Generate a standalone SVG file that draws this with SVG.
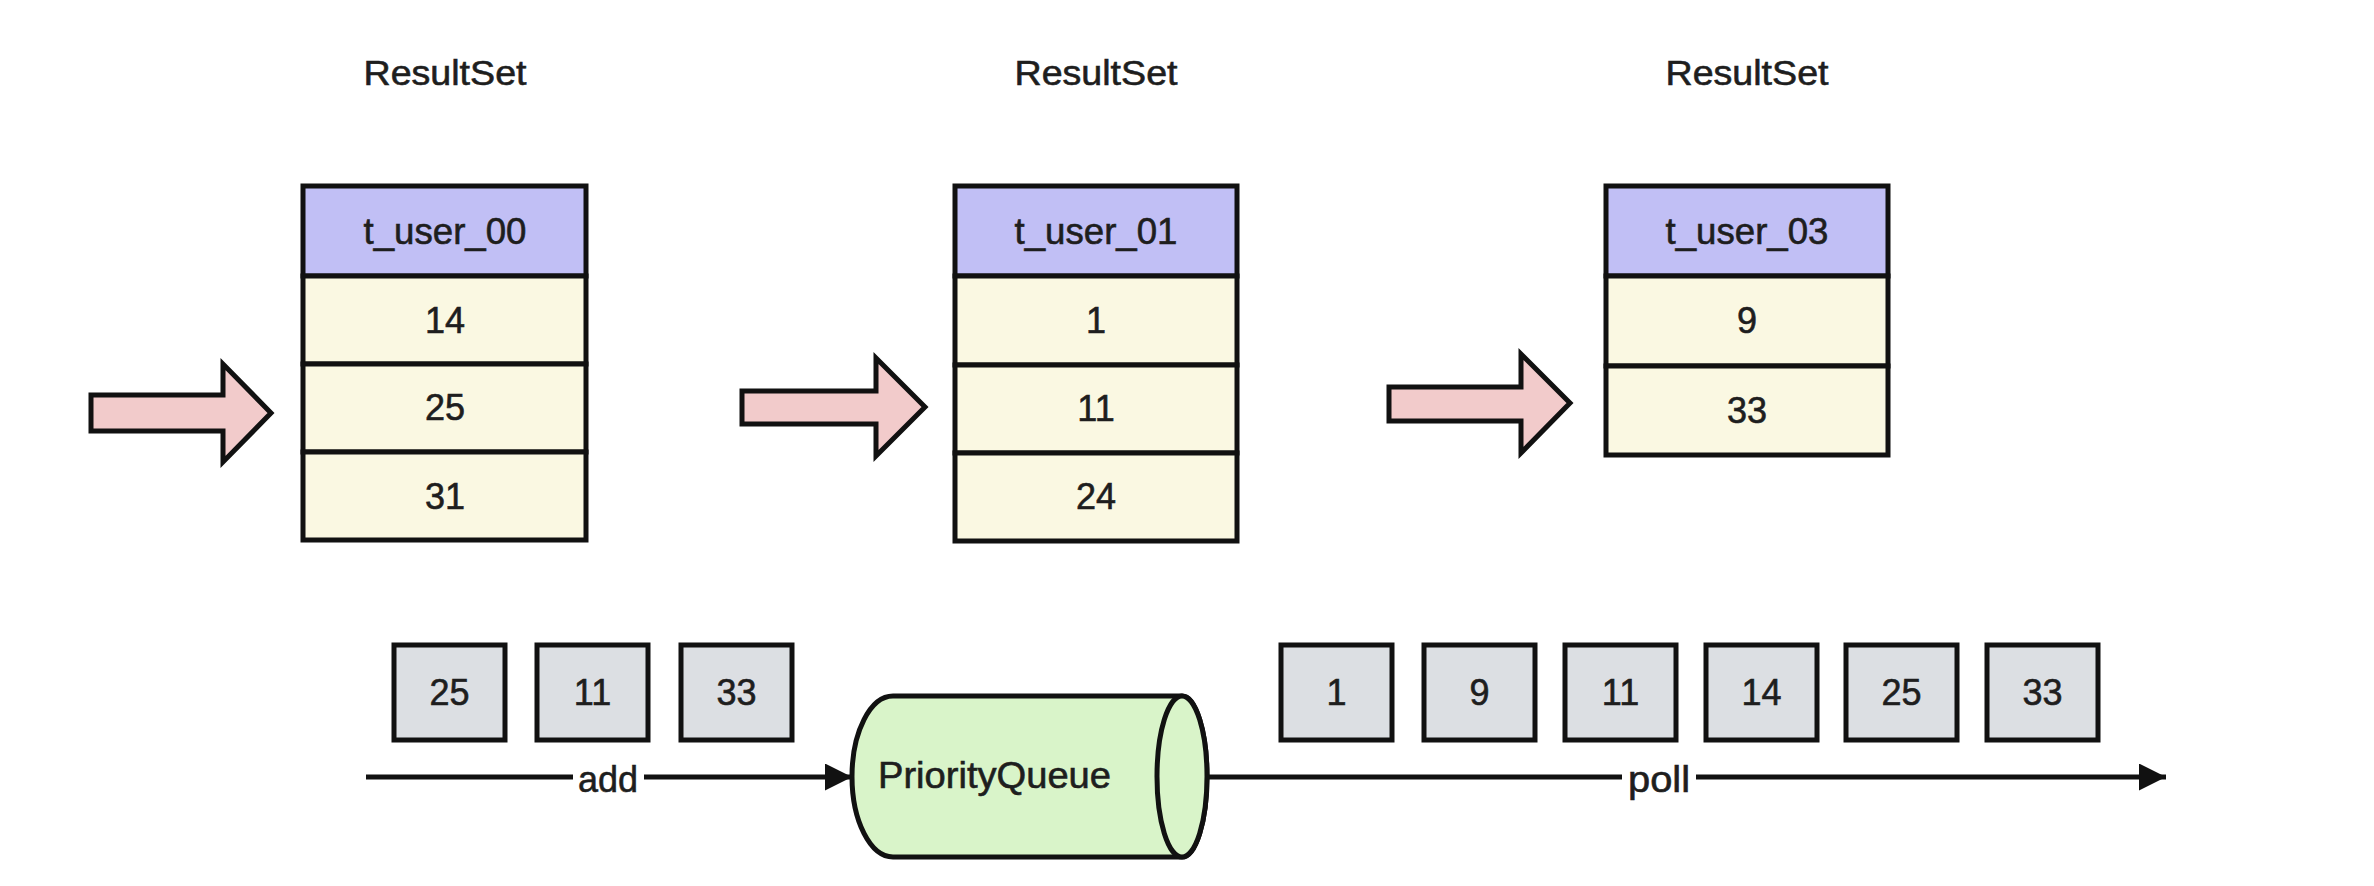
<svg xmlns="http://www.w3.org/2000/svg" width="2374" height="886" viewBox="0 0 2374 886">
  <defs>
    <style>
      .t { font-family: "Liberation Sans", Arial, Helvetica, sans-serif; fill: #1e1e1e; stroke: #1e1e1e; stroke-width: 0.6; text-anchor: middle; font-size: 36px; }
      .title { font-size: 35px; }
      .hdr { fill: #c1bff5; stroke: #111111; stroke-width: 5; }
      .row { fill: #faf8e2; stroke: #111111; stroke-width: 5; }
      .box { fill: #dcdfe3; stroke: #111111; stroke-width: 5; }
      .blk { fill: #f2cbcb; stroke: #111111; stroke-width: 5; stroke-linejoin: miter; }
      .line { stroke: #111111; stroke-width: 5; fill: none; }
      .lbl { fill: #ffffff; stroke: none; }
    </style>
    <marker id="arr" viewBox="0 0 10 10" refX="10" refY="5" markerWidth="7.6" markerHeight="5.4" markerUnits="strokeWidth" orient="auto">
      <path d="M0,0 L10,5 L0,10 Z" fill="#111111"/>
    </marker>
  </defs>
  <rect x="0" y="0" width="2374" height="886" fill="#ffffff"/>

  <!-- Result set 1 -->
  <g id="resultset-00">
    <text class="t title" x="445" y="85" textLength="163" lengthAdjust="spacingAndGlyphs">ResultSet</text>
    <rect class="hdr" x="303" y="186" width="283" height="90"/>
    <text class="t" x="445" y="244" textLength="163" lengthAdjust="spacingAndGlyphs">t_user_00</text>
    <rect class="row" x="303" y="276" width="283" height="88"/>
    <text class="t" x="445" y="333">14</text>
    <rect class="row" x="303" y="364" width="283" height="88"/>
    <text class="t" x="445" y="420">25</text>
    <rect class="row" x="303" y="452" width="283" height="88"/>
    <text class="t" x="445" y="509">31</text>
  </g>

  <!-- Result set 2 -->
  <g id="resultset-01">
    <text class="t title" x="1096" y="85" textLength="163" lengthAdjust="spacingAndGlyphs">ResultSet</text>
    <rect class="hdr" x="955" y="186" width="282" height="90"/>
    <text class="t" x="1096" y="244" textLength="163" lengthAdjust="spacingAndGlyphs">t_user_01</text>
    <rect class="row" x="955" y="276" width="282" height="89"/>
    <text class="t" x="1096" y="333">1</text>
    <rect class="row" x="955" y="365" width="282" height="88"/>
    <text class="t" x="1096" y="421">11</text>
    <rect class="row" x="955" y="453" width="282" height="88"/>
    <text class="t" x="1096" y="509">24</text>
  </g>

  <!-- Result set 3 -->
  <g id="resultset-03">
    <text class="t title" x="1747" y="85" textLength="163" lengthAdjust="spacingAndGlyphs">ResultSet</text>
    <rect class="hdr" x="1606" y="186" width="282" height="90"/>
    <text class="t" x="1747" y="244" textLength="163" lengthAdjust="spacingAndGlyphs">t_user_03</text>
    <rect class="row" x="1606" y="276" width="282" height="90"/>
    <text class="t" x="1747" y="333">9</text>
    <rect class="row" x="1606" y="366" width="282" height="89"/>
    <text class="t" x="1747" y="423">33</text>
  </g>

  <!-- Pink block arrows (cursors) -->
  <g id="cursors">
    <path class="blk" d="M91,395 L223,395 L223,364 L271,413 L223,462 L223,431 L91,431 Z"/>
    <path class="blk" d="M742,391 L876,391 L876,358 L925,407 L876,456 L876,424 L742,424 Z"/>
    <path class="blk" d="M1389,387 L1521,387 L1521,354 L1570,403 L1521,453 L1521,421 L1389,421 Z"/>
  </g>

  <!-- Added elements -->
  <g id="added-25"><rect class="box" x="394" y="645" width="111" height="95"/><text class="t" x="449.5" y="705">25</text></g>
  <g id="added-11"><rect class="box" x="537" y="645" width="111" height="95"/><text class="t" x="592.5" y="705">11</text></g>
  <g id="added-33"><rect class="box" x="681" y="645" width="111" height="95"/><text class="t" x="736.5" y="705">33</text></g>

  <!-- Polled elements -->
  <g id="polled-1"><rect class="box" x="1281" y="645" width="111" height="95"/><text class="t" x="1336.5" y="705">1</text></g>
  <g id="polled-9"><rect class="box" x="1424" y="645" width="111" height="95"/><text class="t" x="1479.5" y="705">9</text></g>
  <g id="polled-11"><rect class="box" x="1565" y="645" width="111" height="95"/><text class="t" x="1620.5" y="705">11</text></g>
  <g id="polled-14"><rect class="box" x="1706" y="645" width="111" height="95"/><text class="t" x="1761.5" y="705">14</text></g>
  <g id="polled-25"><rect class="box" x="1846" y="645" width="111" height="95"/><text class="t" x="1901.5" y="705">25</text></g>
  <g id="polled-33"><rect class="box" x="1987" y="645" width="111" height="95"/><text class="t" x="2042.5" y="705">33</text></g>

  <!-- Priority queue cylinder -->
  <g id="priority-queue">
    <path d="M893,696 L1182,696 A25,80.5 0 0 1 1182,857 L893,857 A41,80.5 0 0 1 893,696 Z" fill="#d9f4c9" stroke="#111111" stroke-width="5"/>
    <ellipse cx="1182" cy="776.5" rx="25" ry="80.5" fill="#d9f4c9" stroke="#111111" stroke-width="5"/>
    <text class="t" x="878" y="788" style="text-anchor:start" textLength="233" lengthAdjust="spacingAndGlyphs">PriorityQueue</text>
  </g>

  <!-- Connectors -->
  <g id="connectors">
    <line class="line" x1="366" y1="777" x2="852" y2="777" marker-end="url(#arr)"/>
    <rect class="lbl" x="573" y="760" width="71" height="40"/>
    <text class="t" x="608" y="792" textLength="60" lengthAdjust="spacingAndGlyphs">add</text>
    <line class="line" x1="1207" y1="777" x2="2166" y2="777" marker-end="url(#arr)"/>
    <rect class="lbl" x="1622" y="760" width="74" height="40"/>
    <text class="t" x="1659" y="792" textLength="62" lengthAdjust="spacingAndGlyphs">poll</text>
  </g>
</svg>
